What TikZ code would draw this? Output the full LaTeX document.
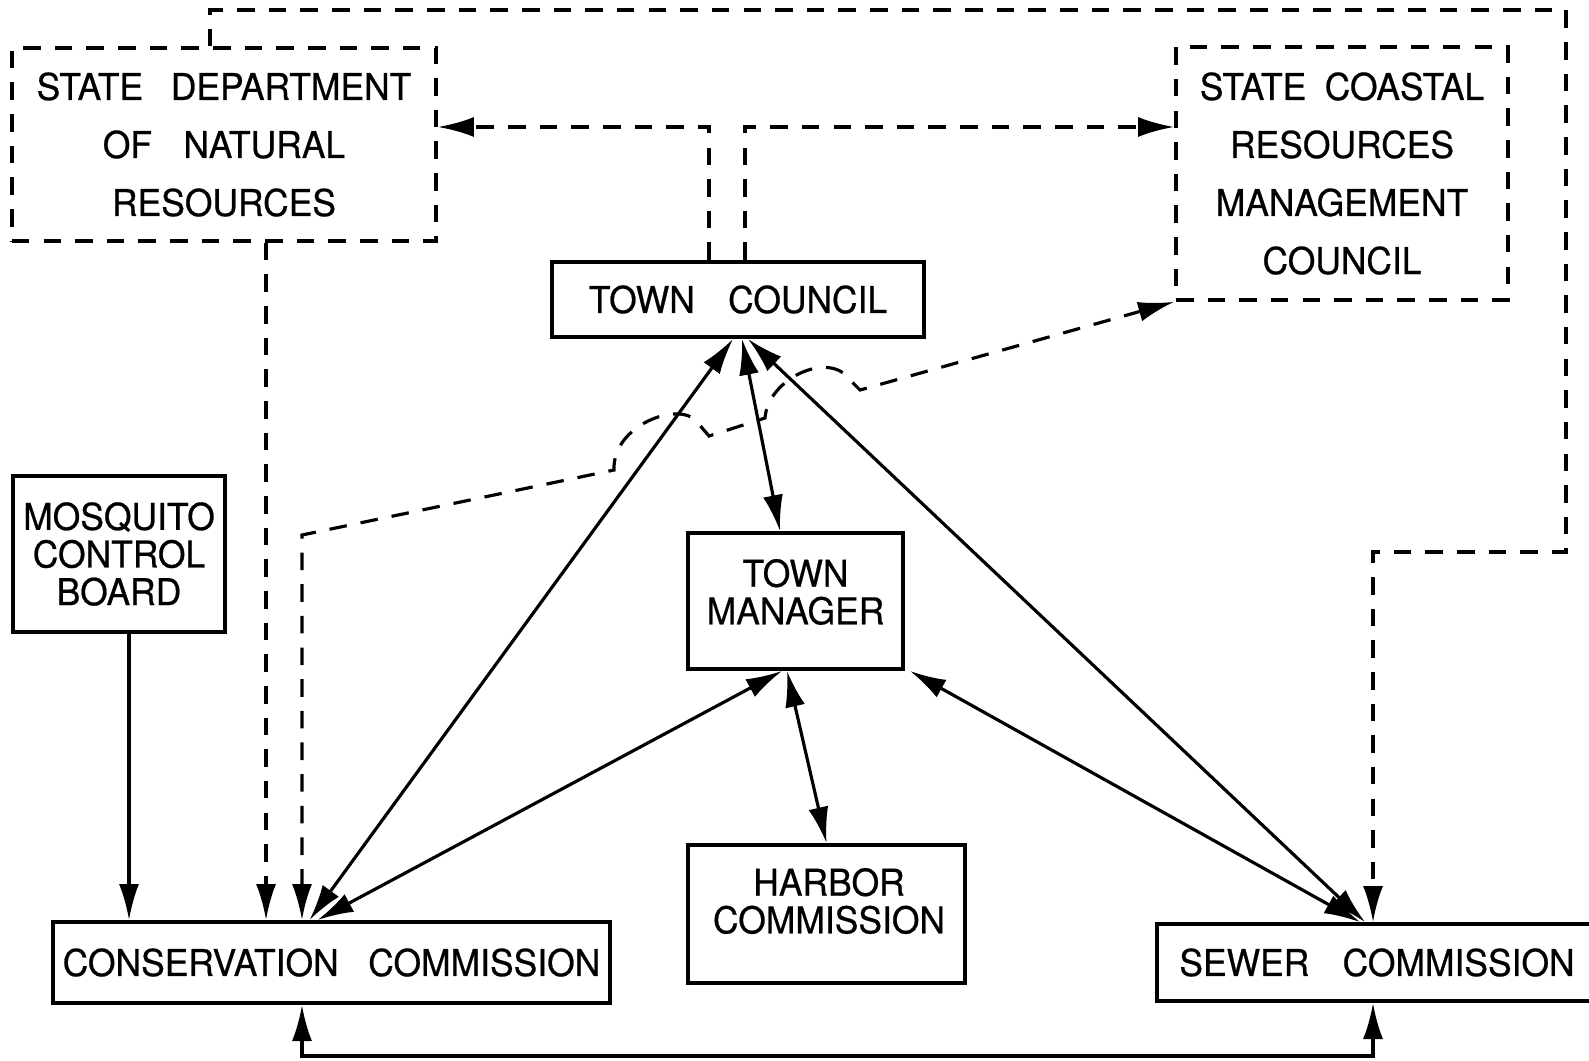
\documentclass[tikz,border=0pt]{standalone}
\usepackage{fontspec}
\setmainfont{TeX Gyre Heros}[FakeStretch=0.96, FakeBold=0.6]
\usetikzlibrary{arrows.meta}

\begin{document}
\begin{tikzpicture}
[x=0.01cm, y=-0.01cm,
font=\fontsize{10.5}{16.5}\selectfont,
solidbox/.style={rectangle, draw, line width=1.1pt, align=center, inner sep=0pt},
dashbox/.style={rectangle, draw, line width=1pt, dash pattern=on 5pt off 4pt, align=center, inner sep=0pt},
tight/.style={align=center, font=\fontsize{10.5}{10.7}\selectfont},
link/.style={line width=0.9pt, -{Latex[length=3.6mm, width=2mm]}},
dlink/.style={link, {Latex[length=3.6mm, width=2mm]}-{Latex[length=3.6mm, width=2mm]}},
dashlink/.style={link, dash pattern=on 5pt off 4pt},
ddashlink/.style={dlink, dash pattern=on 5pt off 4pt},
]
\useasboundingbox (0,0) rectangle (1589,1060);

% boxes
\node[dashbox, minimum width=4.24cm, minimum height=1.93cm] (sdnr) at (224,144.5) {STATE\hspace{0.75em}DEPARTMENT\\OF\hspace{0.85em}NATURAL\\RESOURCES};
\node[dashbox, minimum width=3.32cm, minimum height=2.53cm] (scrmc) at (1342,173.5) {STATE\enspace COASTAL\\RESOURCES\\MANAGEMENT\\COUNCIL};
\node[solidbox, minimum width=3.72cm, minimum height=0.75cm] (tc) at (738,299.5) {TOWN\hspace{0.9em}COUNCIL};
\node[solidbox, tight, minimum width=2.12cm, minimum height=1.56cm] (mcb) at (119,554) {MOSQUITO\\CONTROL\\BOARD};
\node[solidbox, minimum width=2.15cm, minimum height=1.36cm] (tm) at (795.5,601) {};
\node[tight] (tmtext) at (795.5,592) {TOWN\\MANAGER};
\node[solidbox, minimum width=2.77cm, minimum height=1.38cm] (hc) at (826.5,914) {};
\node[tight] (hctext) at (829,901) {HARBOR\\COMMISSION};
\node[solidbox, minimum width=5.57cm, minimum height=0.81cm] (cc) at (331.5,962.5) {CONSERVATION\hspace{0.8em}COMMISSION};
\node[solidbox, minimum width=4.4cm, minimum height=0.77cm] (sc) at (1377,962.5) {SEWER\hspace{0.9em}COMMISSION};

% turning points
\coordinate (ne) at (1566,10);
\coordinate (se) at (1566,552);
\coordinate (scin) at ([xshift=-0.04cm]sc.north);
\coordinate (sdout) at ([xshift=0.42cm]sdnr.south);
\coordinate (mcbout) at ([xshift=0.1cm]mcb.south);
\coordinate (ccin) at ([xshift=-0.295cm]cc.north);

% dashed links
\draw[dashlink] ([xshift=-0.29cm]tc.north) |- ([yshift=0.175cm]sdnr.east);
\draw[dashlink] ([xshift=0.07cm]tc.north) |- ([yshift=0.465cm]scrmc.west);
\draw[dashlink] ([xshift=-0.14cm]sdnr.north) |- (ne) |- (scin |- se) -- (scin);
\draw[dashlink] (sdout) -- (sdout |- cc.north);
\draw[ddashlink] (scrmc.south west) -- (860,390) -- (850,380)
  .. controls (830,350) and (768,378) .. (765,418) -- (709,436) -- (697,422)
  .. controls (680,400) and (612,425) .. (614,470) -- (302,535) -- (ccin);

% solid links
\draw[link] (mcbout) -- (mcbout |- cc.north);
\draw[dlink] ([xshift=-0.05cm]tc.south) -- ([xshift=-0.22cm]cc.north);
\draw[dlink] ([xshift=0.04cm]tc.south) -- ([xshift=-0.155cm]tm.north);
\draw[dlink] ([xshift=0.1cm]tc.south) -- ([xshift=-0.12cm]sc.north);
\draw[dlink] ([xshift=-0.135cm]tm.south) -- ([xshift=-0.14cm]cc.north);
\draw[dlink] ([xshift=-0.085cm]tm.south) -- (hc.north);
\draw[dlink] ([xshift=0.05cm]tm.south east) -- ([xshift=-0.17cm]sc.north);
\draw[dlink] ([xshift=-0.295cm]cc.south) -- ++(0,51) -| ([xshift=-0.04cm]sc.south);
\end{tikzpicture}
\end{document}
